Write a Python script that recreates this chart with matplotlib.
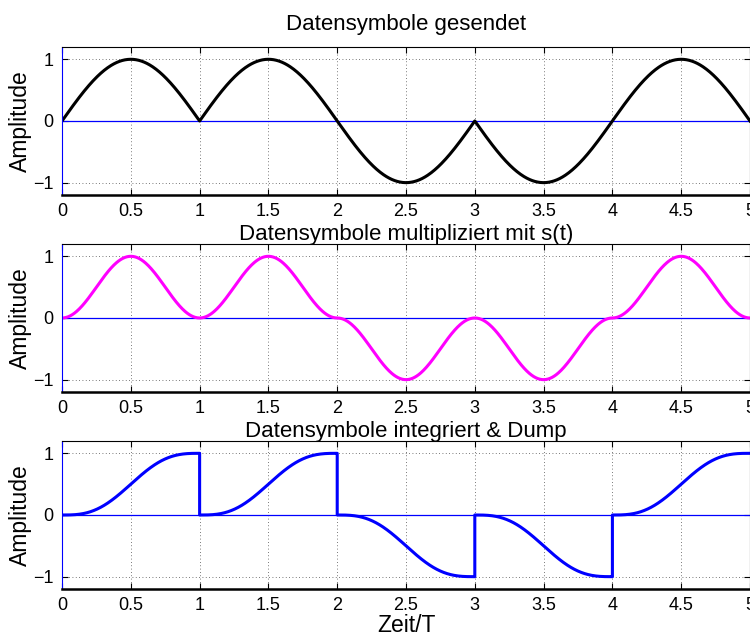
import numpy as np
import matplotlib
matplotlib.use('Agg')
from matplotlib import pyplot as plt

# data symbols (one per symbol period T)
symbols = [1, 1, -1, -1, 1]
n_per_symbol = 200

titles = ['Datensymbole gesendet',
          'Datensymbole multipliziert mit s(t)',
          'Datensymbole integriert & Dump']
colors = ['black', 'magenta', 'blue']
x_ticks = [0, 0.5, 1, 1.5, 2, 2.5, 3, 3.5, 4, 4.5, 5]
x_ticklabels = ['0', '0.5', '1', '1.5', '2', '2.5', '3', '3.5', '4', '4.5', '5']
y_ticks = [-1, 0, 1]
y_ticklabels = ['\u22121', '0', '1']

plt.rcParams['font.family'] = ['Liberation Sans', 'DejaVu Sans']

# build signals: pulse s(t) = sin(pi t) over each symbol
tau = np.linspace(0, 1, n_per_symbol)
pulse = np.sin(np.pi * tau)
t_all, sent, mult, integ = [], [], [], []
for k, d in enumerate(symbols):
    t_all.append(k + tau)
    sent.append(d * pulse)
    mult.append(d * pulse**2)
    integ.append(d * (tau - np.sin(2*np.pi*tau) / (2*np.pi)))
t_all = np.concatenate(t_all)
signals = [np.concatenate(sent), np.concatenate(mult), np.concatenate(integ)]

fig = plt.figure(figsize=(7.5, 6.38), dpi=100)
bottoms = [0.6944, 0.3856, 0.0768]
pads = [12, 3, 3]

for i in range(3):
    ax = fig.add_axes([0.0827, bottoms[i], 0.9173, 0.232])
    ax.plot([0, 5], [0, 0], color='blue', lw=0.9)
    ax.plot(t_all, signals[i], color=colors[i], lw=2.2)
    ax.set_xlim(0, 5)
    ax.set_ylim(-1.2, 1.2)
    ax.set_xticks(x_ticks)
    ax.set_xticklabels(x_ticklabels)
    ax.set_yticks(y_ticks)
    ax.set_yticklabels(y_ticklabels)
    ax.grid(True, linestyle=(0, (1, 3)), color='black', lw=0.6, alpha=0.7)
    ax.tick_params(direction='in', top=True, right=True, labelsize=13,
                   length=4, width=0.8)
    ax.tick_params(axis='x', pad=6)
    ax.tick_params(axis='y', pad=6)
    ax.set_ylabel('Amplitude', fontsize=16.5, labelpad=1)
    ax.set_title(titles[i], fontsize=16, pad=pads[i])
    ax.spines['left'].set_color('blue')
    ax.spines['bottom'].set_linewidth(1.8)
    for s in ['top', 'right']:
        ax.spines[s].set_linewidth(0.8)
    ax.set_axisbelow(True)
    if i == 2:
        ax.set_xlabel('Zeit/T', fontsize=16.5, labelpad=0)

fig.savefig('out.png', dpi=100)
